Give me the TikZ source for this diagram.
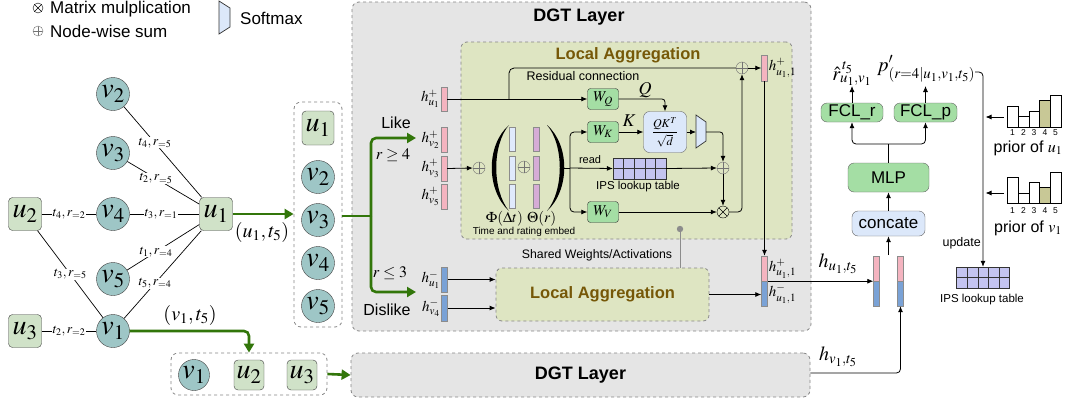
\documentclass[tikz,border=0pt]{standalone}
\usepackage{mathptmx}
\usepackage[no-math]{fontspec}
\setmainfont{Liberation Sans}
\usetikzlibrary{arrows.meta}

\definecolor{grayfill}{RGB}{229,229,229}
\definecolor{dashgray}{RGB}{135,135,135}
\definecolor{lafill}{RGB}{222,229,194}
\definecolor{latitle}{RGB}{118,88,8}
\definecolor{vcol}{RGB}{158,198,198}
\definecolor{ucol}{RGB}{208,226,200}
\definecolor{wcol}{RGB}{164,222,164}
\definecolor{lbluecol}{RGB}{220,232,250}
\definecolor{pinkbar}{RGB}{244,180,192}
\definecolor{bluebar}{RGB}{122,162,214}
\definecolor{thetabar}{RGB}{214,172,214}
\definecolor{phibar}{RGB}{224,234,252}
\definecolor{ipsfill}{RGB}{196,196,240}
\definecolor{olivebar}{RGB}{200,200,150}
\definecolor{garrcol}{RGB}{50,118,10}

\newcommand\fs[1]{\fontsize{#1}{#1}\selectfont}

\begin{document}
\begin{tikzpicture}[x=1pt,y=-1pt,
  vnode/.style={circle, draw=black!75, fill=vcol, minimum size=33pt, inner sep=0pt, font=\fs{28}},
  unode/.style={rectangle, rounded corners=4pt, draw=black!75, fill=ucol, minimum size=33pt, inner sep=0pt, font=\fs{28}},
  edge/.style={draw=black, line width=0.7pt},
  elab/.style={fill=white, inner sep=0.6pt, font=\fs{13.5}},
  arr/.style={-{Latex[length=6pt,width=5pt]}, line width=0.8pt},
  garr/.style={-{Triangle[length=9pt,width=10pt]}, line width=2.6pt, draw=garrcol, rounded corners=5pt},
  gline/.style={line width=2.6pt, draw=garrcol},
  dashbox/.style={draw=dashgray, dashed, rounded corners=7pt, line width=0.8pt},
  graybox/.style={dashbox, fill=grayfill},
  labox/.style={dashbox, fill=lafill, rounded corners=6pt},
  wbox/.style={draw=black!80, fill=wcol, rounded corners=3pt, minimum width=31pt, minimum height=21pt, inner sep=0pt, font=\fs{15}},
  greenbox/.style={draw=black!60, fill=wcol, rounded corners=6pt, inner sep=0pt, font=\fs{17}},
  bluebox/.style={draw=black!60, fill=lbluecol, rounded corners=6pt, inner sep=0pt},
  pbar/.style={draw=black!45, fill=pinkbar, minimum width=6pt, minimum height=25pt, inner sep=0pt},
  nbar/.style={draw=black!45, fill=bluebar, minimum width=6pt, minimum height=25pt, inner sep=0pt},
  hlab/.style={font=\fs{15}, inner sep=1pt},
  oplus/.style={circle, draw=black!55, minimum size=12pt, inner sep=0pt,
    path picture={\draw[black!55] (path picture bounding box.north) -- (path picture bounding box.south)
      (path picture bounding box.west) -- (path picture bounding box.east);}},
  otimes/.style={circle, draw=black, minimum size=12pt, inner sep=0pt,
    path picture={\draw (path picture bounding box.north west) -- (path picture bounding box.south east)
      (path picture bounding box.south west) -- (path picture bounding box.north east);}},
  ipstab/.style={draw=black!80, fill=ipsfill, minimum width=53pt, minimum height=21pt, inner sep=0pt},
  histbar/.style={draw=black, fill=white, line width=0.7pt},
  numlab/.style={font=\fs{8.5}, inner sep=0pt},
  txt/.style={inner sep=0pt}
]
\useasboundingbox (0,0) rectangle (1067,402);
\fill[white] (0,0) rectangle (1067,402);

% ---------- legend ----------
\node[otimes, draw=black, minimum size=10pt] (legT) at (38,8) {};
\node[txt, anchor=west, font=\fs{17}] (legTt) at (50,9) {Matrix mulplication};
\node[oplus, minimum size=10pt] (legP) at (38,31) {};
\node[txt, anchor=west, font=\fs{17}] (legPt) at (50,31) {Node-wise sum};
\draw[draw=black!80, fill=lbluecol, line width=0.7pt] (219,1) -- (230,8) -- (230,27) -- (219,34) -- cycle;
\node[txt, anchor=west, font=\fs{17}] (legS) at (240,18) {Softmax};

% ---------- interaction graph ----------
\node[vnode] (v2) at (113,94) {$v_2$};
\node[vnode] (v3) at (113,153) {$v_3$};
\node[vnode] (v4) at (113,214) {$v_4$};
\node[vnode] (v5) at (113,279) {$v_5$};
\node[vnode] (v1) at (113,331) {$v_1$};
\node[unode] (u1) at (216,214) {$u_1$};
\node[unode] (u2) at (25,214) {$u_2$};
\node[unode] (u3) at (25,331) {$u_3$};

\draw[edge] (v2) -- node[elab, pos=0.4] (e1) {$t_4, r_{=5}$} (u1);
\draw[edge] (v3) -- node[elab, pos=0.4] (e2) {$t_2, r_{=5}$} (u1);
\draw[edge] (v4) -- node[elab, pos=0.45] (e3) {$t_3, r_{=1}$} (u1);
\draw[edge] (v5) -- node[elab, pos=0.4] (e4) {$t_1, r_{=4}$} (u1);
\draw[edge] (v1) -- node[elab, pos=0.4] (e5) {$t_5, r_{=4}$} (u1);
\draw[edge] (u2) -- node[elab, pos=0.5] (e6) {$t_4, r_{=2}$} (v4);
\draw[edge] (u2) -- node[elab, pos=0.5] (e7) {$t_3, r_{=5}$} (v1);
\draw[edge] (u3) -- node[elab, pos=0.5] (e8) {$t_2, r_{=2}$} (v1);

% ---------- neighbourhood of u1 ----------
\node[dashbox, minimum width=48pt, minimum height=225pt] (box1) at (318,214.5) {};
\node[unode, minimum width=32pt, minimum height=34pt] (u1b) at (318,128) {$u_1$};
\node[vnode] (v2b) at (318,177) {$v_2$};
\node[vnode] (v3b) at (318,220) {$v_3$};
\node[vnode] (v4b) at (318,263) {$v_4$};
\node[vnode] (v5b) at (318,306) {$v_5$};

\draw[garr] (u1.east) -- (box1.west |- u1.east);
\node[txt, font=\fs{20}] (pairU) at (262,232) {$(u_1, t_5)$};

% ---------- neighbourhood of v1 ----------
\node[dashbox, minimum width=156pt, minimum height=42pt] (box2) at (249,374) {};
\node[vnode, minimum size=31pt] (v1c) at (194,375) {$v_1$};
\node[unode, minimum size=30pt] (u2c) at (249,375) {$u_2$};
\node[unode, minimum size=30pt] (u3c) at (302,375) {$u_3$};
\draw[garr] (v1.east) -| (box2.north -| u2c);
\node[txt, font=\fs{20}] (pairV) at (190,315) {$(v_1, t_5)$};

% ---------- DGT layers ----------
\node[graybox, minimum width=459pt, minimum height=329pt] (dgt) at (581.5,166.5) {};
\node[txt, font=\fs{18}\bfseries] (dgtT) at (579,17) {DGT Layer};
\node[graybox, minimum width=459pt, minimum height=44pt, font=\fs{18}\bfseries] (dgt2) at (580.5,375) {DGT Layer};
\draw[garr] (box2.east) -- (dgt2.west);

% like / dislike split
\coordinate (brJ) at (371,216);
\coordinate (likeTip) at (416,138);
\coordinate (dislikeTip) at (416,292);
\draw[gline] (box1.east |- brJ) -- (brJ);
\draw[garr] (brJ) |- (likeTip);
\draw[garr] (brJ) |- (dislikeTip);
\node[txt, font=\fs{16}] (likeT) at (396,123) {Like};
\node[txt, font=\fs{16}] (rge) at (393,155) {$r \geq 4$};
\node[txt, font=\fs{16}] (rle) at (390,273) {$r \leq 3$};
\node[txt, font=\fs{16}] (dislikeT) at (387,310) {Dislike};

% ---------- local aggregation (like) ----------
\node[labox, minimum width=331pt, minimum height=197pt] (la1) at (626.5,140.5) {};
\node[txt, font=\fs{16.5}\bfseries, text=latitle] (la1T) at (628,55) {Local Aggregation};

\node[pbar, minimum height=24pt] (hu1p) at (444,99) {};
\node[pbar] (hv2p) at (444,139.5) {};
\node[pbar] (hv3p) at (444,168.5) {};
\node[pbar] (hv5p) at (444,196.5) {};
\node[hlab, anchor=east] (lhu1p) at (hu1p.west) {$h^{+}_{u_1}$};
\node[hlab, anchor=east] (lhv2p) at (hv2p.west) {$h^{+}_{v_2}$};
\node[hlab, anchor=east] (lhv3p) at (hv3p.west) {$h^{+}_{v_3}$};
\node[hlab, anchor=east] (lhv5p) at (hv5p.west) {$h^{+}_{v_5}$};

\node[wbox] (wq) at (603,99) {$W_Q$};
\node[wbox] (wk) at (603,132) {$W_K$};
\node[wbox] (wv) at (603,212) {$W_V$};

\draw[arr] (hu1p.east) -- (wq.west);
\node[oplus] (opRes) at (742,68) {};
\coordinate (resJ) at (509,99);
\draw[line width=0.8pt, rounded corners=5pt] (resJ) |- (opRes.west);
\node[txt, font=\fs{12.5}] (resT) at (583,76) {Residual connection};

% embedding of neighbours
\node[oplus] (opIn) at (479,168) {};
\draw[arr] (hv3p.east) -- (opIn.west);
\fill (509,125) .. controls (486,145) and (486,190) .. (509,211) .. controls (492,190) and (492,145) .. (509,125);
\fill (547,125) .. controls (570,145) and (570,190) .. (547,211) .. controls (564,190) and (564,145) .. (547,125);
\foreach \yy in {139.5,168.5,196.5} {
  \draw[draw=black!45, fill=phibar] (509,\yy-12) rectangle (515,\yy+12);
  \draw[draw=black!45, fill=thetabar] (533,\yy-12) rectangle (539,\yy+12);
}
\node[oplus] (opEmb) at (524,167) {};
\node[txt, font=\fs{15}] (embT) at (521,219) {$\Phi(\Delta t)\ \Theta(r)$};
\node[txt, font=\fs{10}] (embT2) at (524,232) {Time and rating embed};

\coordinate (spl) at (570,168);
\draw[line width=0.8pt] (564,168) -- (spl);
\draw[arr, rounded corners=4pt] (spl) |- (wk.west);
\draw[arr, rounded corners=4pt] (spl) |- (wv.west);

\node[ipstab] (ips) at (639.5,168.5) {};
\foreach \xx in {1,...,4} \draw[black!80] (613+\xx*10.6,158) -- (613+\xx*10.6,179);
\draw[black!80] (ips.west) -- (ips.east);
\draw[arr] (spl) -- (ips.west);
\node[txt, font=\fs{11}] (readT) at (590,160) {read};
\node[txt, font=\fs{11.5}] (ipsT) at (638,187) {IPS lookup table};

% attention
\node[bluebox, minimum width=43pt, minimum height=41pt, font=\fs{12}] (qk) at (665,132) {$\displaystyle\frac{QK^T}{\sqrt{d}}$};
\draw[arr, rounded corners=3pt] (wq.east) -| (qk.north);
\node[txt, font=\fs{18}] (qT) at (645,90) {$Q$};
\draw[arr] (wk.east) -- (qk.west);
\node[txt, font=\fs{18}] (kT) at (629,121) {$K$};
\draw[draw=black!80, fill=lbluecol, line width=0.7pt] (696,115) -- (706,122) -- (706,141) -- (696,148) -- cycle;
\coordinate (smIn) at (696,132);
\coordinate (smOut) at (706,132);
\draw[arr] (qk.east) -- (smIn);
\node[oplus] (opAtt) at (723,168) {};
\node[otimes] (otm) at (723,212) {};
\draw[arr, rounded corners=3pt] (smOut) -| (opAtt.north);
\draw[arr] (ips.east) -- (opAtt.west);
\draw[arr] (opAtt.south) -- (otm.north);
\draw[arr] (wv.east) -- (otm.west);
\draw[arr, rounded corners=4pt] (otm.east) -| (opRes.south);

\node[pbar, minimum height=26pt] (hu1o) at (764.5,68) {};
\draw[arr] (opRes.east) -- (hu1o.west);
\node[hlab, anchor=west] (lhu1o) at (hu1o.east) {$h^{+}_{u_1,1}$};

% shared weights
\fill[black!45] (680,229) circle (3.2pt);
\fill[black!45] (680,276) circle (3.2pt);
\draw[black!45, line width=1pt] (680,229) -- (680,276);
\node[txt, font=\fs{12.3}] (sharedT) at (597,255) {Shared Weights/Activations};

% ---------- local aggregation (dislike) ----------
\node[labox, minimum width=213pt, minimum height=53pt, font=\fs{16.5}\bfseries, text=latitle] (la2) at (602.5,294.5) {Local Aggregation};
\node[nbar] (hu1m) at (444.5,279.5) {};
\node[nbar, minimum height=26pt] (hv4m) at (444.5,308) {};
\node[hlab, anchor=east] (lhu1m) at (hu1m.west) {$h^{-}_{u_1}$};
\node[hlab, anchor=east] (lhv4m) at (hv4m.west) {$h^{-}_{v_4}$};
\draw[arr] (hu1m.east) -- (hu1m.east -| la2.west);
\draw[arr] (hv4m.east) -- (hv4m.east -| la2.west);

\node[pbar] (hsP) at (764.5,268.5) {};
\node[nbar] (hsN) at (764.5,293.5) {};
\node[hlab, anchor=west] (lhsP) at (hsP.east) {$h^{+}_{u_1,1}$};
\node[hlab, anchor=west] (lhsN) at (hsN.east) {$h^{-}_{u_1,1}$};
\draw[arr] (hu1o.south) -- (hsP.north);
\draw[arr] (la2.east) -- (la2.east -| hsN.west);

% ---------- prediction head ----------
\node[pbar] (huP) at (876.5,268.5) {};
\node[nbar] (huN) at (876.5,293.5) {};
\node[pbar] (hvP) at (900.5,268.5) {};
\node[nbar] (hvN) at (900.5,293.5) {};
\draw[arr] (hsP.south east) -- (huP.south west);
\node[txt, font=\fs{20}] (huT) at (838,264) {$h_{u_1,t_5}$};
\draw[arr, rounded corners=4pt] (dgt2.east |- 0,373) -| (hvN.south);
\node[txt, font=\fs{20}] (hvT) at (838,357) {$h_{v_1,t_5}$};

\node[bluebox, minimum width=73pt, minimum height=25pt, font=\fs{17}] (cat) at (888.5,223.5) {concate};
\node[greenbox, minimum width=81pt, minimum height=29pt] (mlp) at (888.5,177.5) {MLP};
\node[greenbox, minimum width=62pt, minimum height=19pt] (fclr) at (852,112.5) {FCL\_r};
\node[greenbox, minimum width=63pt, minimum height=19pt] (fclp) at (925.5,112.5) {FCL\_p};
\coordinate (catIn) at (888.5,255);
\draw[arr] (catIn) -- (cat.south);
\draw[arr] (cat.north) -- (mlp.south);
\coordinate (mj) at (888.5,144);
\draw[line width=0.8pt] (mlp.north) -- (mj);
\draw[arr, rounded corners=4pt] (mj) -| (fclr.south);
\draw[arr, rounded corners=4pt] (mj) -| (fclp.south);

\node[txt, font=\fs{20}, anchor=south] (rhat) at (852,86) {$\hat{r}^{\,t_5}_{u_1,v_1}$};
\node[txt, font=\fs{20}, anchor=south] (pprime) at (926,82) {$p'_{(r=4|u_1,v_1,t_5)}$};
\draw[arr] (fclr.north) -- (rhat.south);
\draw[arr] (fclp.north) -- (fclp.north |- rhat.south);

\node[ipstab] (ips2) at (983,277.5) {};
\foreach \xx in {1,...,4} \draw[black!80] (956.5+\xx*10.6,267) -- (956.5+\xx*10.6,288);
\draw[black!80] (ips2.west) -- (ips2.east);
\node[txt, font=\fs{11.5}] (ips2T) at (982,300) {IPS lookup table};
\draw[arr, rounded corners=4pt] (pprime.east |- 0,72) -| (ips2.north);
\node[txt, font=\fs{12.5}, anchor=east] (updT) at (981,243) {update};

% prior of u1
\draw[histbar] (1007,127) rectangle (1018,106);
\draw[histbar] (1018,127) rectangle (1029,116);
\draw[histbar] (1029,127) rectangle (1039.5,111);
\draw[histbar, fill=olivebar] (1039.5,127) rectangle (1050,100);
\draw[histbar] (1050,127) rectangle (1061,95);
\node[numlab] (n11) at (1012.5,133) {1};
\node[numlab] (n12) at (1023.5,133) {2};
\node[numlab] (n13) at (1034,133) {3};
\node[numlab] (n14) at (1045,133) {4};
\node[numlab] (n15) at (1055.5,133) {5};
\node[txt, font=\fs{16}] (pu1T) at (1028,148) {prior of $u_1$};
\coordinate (pu1From) at (1004,117);
\coordinate (pu1To) at (985.5,117);
\draw[arr] (pu1From) -- (pu1To);

% prior of v1
\draw[histbar] (1007,203) rectangle (1018,177);
\draw[histbar] (1018,203) rectangle (1029,193);
\draw[histbar] (1029,203) rectangle (1039.5,182);
\draw[histbar, fill=olivebar] (1039.5,203) rectangle (1050,187);
\draw[histbar] (1050,203) rectangle (1061,172);
\node[numlab] (n21) at (1012.5,211) {1};
\node[numlab] (n22) at (1023.5,211) {2};
\node[numlab] (n23) at (1034,211) {3};
\node[numlab] (n24) at (1045,211) {4};
\node[numlab] (n25) at (1055.5,211) {5};
\node[txt, font=\fs{16}] (pv1T) at (1028,228) {prior of $v_1$};
\coordinate (pv1From) at (1004,193);
\coordinate (pv1To) at (985.5,193);
\draw[arr] (pv1From) -- (pv1To);
\end{tikzpicture}
\end{document}
